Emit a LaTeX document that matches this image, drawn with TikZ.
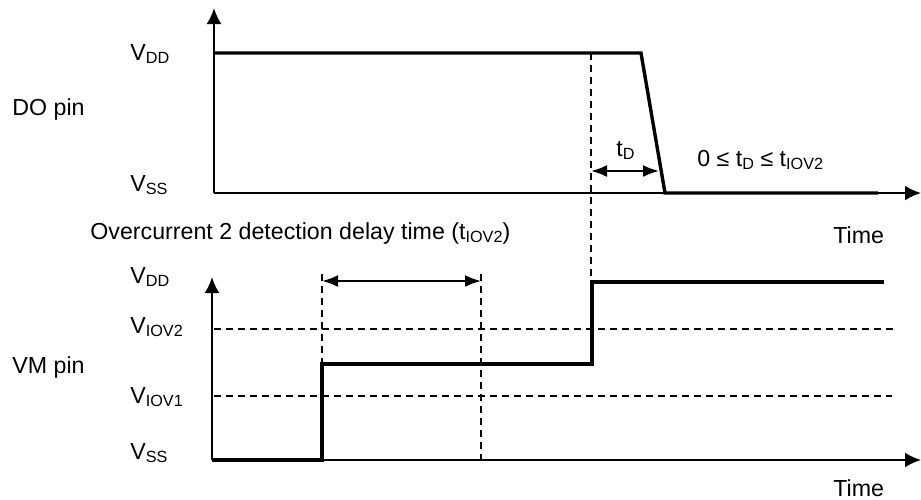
\documentclass[tikz,border=0pt]{standalone}
\usepackage{fontspec}
\setmainfont{Liberation Sans}
\usetikzlibrary{arrows.meta}

% subscript as drawn in the reference
\newcommand{\lo}[1]{\raisebox{-1.7pt}{\fontsize{8.1}{9}\selectfont #1}}

\tikzset{
  lbl/.style={font=\fontsize{11.6}{13}\selectfont, inner sep=0pt, anchor=base west},
  axis/.style={line width=1.1pt, -{Latex[length=8pt,width=7.5pt]}},
  signal/.style={line width=1.7pt, line join=miter},
  guide/.style={line width=0.65pt, dash pattern=on 3.5pt off 2.5pt},
  span/.style={line width=1.1pt, {Latex[length=8pt,width=6pt]}-{Latex[length=8pt,width=6pt]}}
}

\begin{document}
\begin{tikzpicture}[x=0.5pt, y=-0.5pt]

\useasboundingbox (0,0) rectangle (921,499);

% plot the DO pin axes
\coordinate (do_origin) at (214,193);
\coordinate (do_top) at (214,8);
\coordinate (do_end) at (921,193);
\draw[axis] (do_origin) -- (do_top);
\draw[axis] (do_origin) -- (do_end);

\node[lbl] (do_vdd) at (130,60) {V\lo{DD}};
\node[lbl] (do_vss) at (130,191) {V\lo{SS}};
\node[lbl] (do_name) at (12,115) {DO pin};
\node[lbl] (do_time) at (833,243) {Time};

% DO output falls after t_D
\coordinate (do_a) at (214,53);
\coordinate (do_b) at (641,53);
\coordinate (do_c) at (665,193);
\coordinate (do_d) at (878,193);
\draw[signal] (do_a) -- (do_b) -- (do_c) -- (do_d);

\coordinate (det_top) at (591,53);
\coordinate (det_bot) at (591,282);
\draw[guide] (det_top) -- (det_bot);

\coordinate (td_l) at (591,171);
\coordinate (td_r) at (659,171);
\draw[span] (td_l) -- (td_r);
\node[lbl] (td) at (616,156) {t\lo{D}};
\node[lbl] (td_range) at (697,166) {0 ≤ t\lo{D} ≤ t\lo{IOV2}};

\node[lbl] (delay) at (90,239) {Overcurrent 2 detection delay time (t\lo{IOV2})};

% plot the VM pin axes
\coordinate (vm_origin) at (212,460);
\coordinate (vm_top) at (212,277);
\coordinate (vm_end) at (921,460);
\draw[axis] (vm_origin) -- (vm_top);
\draw[axis] (vm_origin) -- (vm_end);

\node[lbl] (vm_vdd) at (130,283) {V\lo{DD}};
\node[lbl] (vm_viov2) at (130,333) {V\lo{IOV2}};
\node[lbl] (vm_name) at (12,373) {VM pin};
\node[lbl] (vm_viov1) at (130,403) {V\lo{IOV1}};
\node[lbl] (vm_vss) at (130,459) {V\lo{SS}};
\node[lbl] (vm_time) at (833,496) {Time};

% threshold levels
\coordinate (iov2_l) at (214,329);
\coordinate (iov2_r) at (893,329);
\coordinate (iov1_l) at (214,396);
\coordinate (iov1_r) at (892,396);
\draw[guide] (iov2_l) -- (iov2_r);
\draw[guide] (iov1_l) -- (iov1_r);

% delay window
\coordinate (win_l_top) at (322,274);
\coordinate (win_l_bot) at (322,460);
\coordinate (win_r_top) at (481,274);
\coordinate (win_r_bot) at (481,460);
\draw[guide] (win_l_top) -- (win_l_bot);
\draw[guide] (win_r_top) -- (win_r_bot);

\coordinate (win_l) at (322,281);
\coordinate (win_r) at (481,281);
\draw[span] (win_l) -- (win_r);

% VM voltage steps
\coordinate (vm_a) at (212,460);
\coordinate (vm_b) at (322,460);
\coordinate (vm_c) at (322,364);
\coordinate (vm_d) at (592,364);
\coordinate (vm_e) at (592,282);
\coordinate (vm_f) at (884,282);
\draw[signal] (vm_a) -- (vm_b) -- (vm_c) -- (vm_d) -- (vm_e) -- (vm_f);

\end{tikzpicture}
\end{document}
